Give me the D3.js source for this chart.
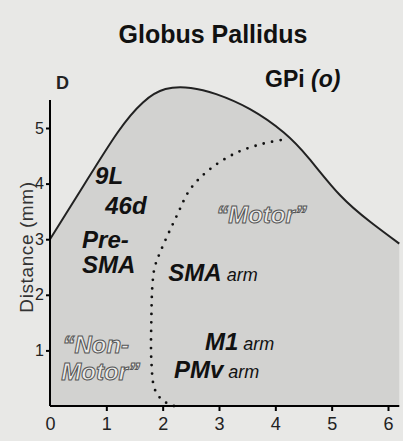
<!DOCTYPE html>
<html>
<head>
<meta charset="utf-8">
<script src="https://cdn.jsdelivr.net/npm/d3@7"></script>
<style>
  body { margin: 0; background: #e8e8e6; }
  svg { display: block; }
  text { font-family: "Liberation Sans", Arial, Helvetica, sans-serif; }
</style>
</head>
<body>
<div id="chart"></div>
<script>
// GPi outline (top edge of shaded region), distance in mm
var edgeX = [0, 0.6, 1.2, 1.65, 2.05, 2.5, 2.95, 3.55, 4.15, 4.6, 5.15, 5.7, 6.2];
var edgeY = [3.0, 3.97, 4.92, 5.46, 5.70, 5.72, 5.61, 5.34, 4.92, 4.45, 3.79, 3.30, 2.92];

// dotted border between "Non-Motor" and "Motor" territory
var borderX = [2.2, 2.0, 1.86, 1.8, 1.8, 1.82, 1.86, 1.97, 2.25, 2.49, 2.84, 3.32, 3.79, 4.2];
var borderY = [0, 0.1, 0.3, 0.8, 1.6, 2.2, 2.5, 2.8, 3.42, 3.9, 4.26, 4.56, 4.72, 4.8];

var xTicks = [0, 1, 2, 3, 4, 5, 6];
var yTicks = [1, 2, 3, 4, 5];

// area labels: [text, small suffix, x, y]
var areaLabels = [
  ["9L", "", 0.8, 4.0],
  ["46d", "", 0.98, 3.45],
  ["Pre-", "", 0.57, 2.84],
  ["SMA", "", 0.57, 2.39],
  ["SMA", " arm", 2.1, 2.25],
  ["M1", " arm", 2.75, 1.0],
  ["PMv", " arm", 2.2, 0.5]
];
var outlineLabels = [
  ["\u201CNon-", 0.22, 0.96],
  ["Motor\u201D", 0.2, 0.46],
  ["\u201CMotor\u201D", 2.95, 3.3]
];

var w = 403, h = 441;

var svg = d3.select("#chart").append("svg")
  .attr("width", w)
  .attr("height", h);

var x = d3.scaleLinear().domain([0, 6]).range([50, 388]);
var y = d3.scaleLinear().domain([0, 5]).range([406, 128]);

var edge = edgeX.map(function(d, i) { return [d, edgeY[i]]; });
var border = borderX.map(function(d, i) { return [d, borderY[i]]; });

// shaded GPi
var area = d3.area()
  .x(function(d) { return x(d[0]); })
  .y0(y(0))
  .y1(function(d) { return y(d[1]); })
  .curve(d3.curveNatural);

svg.append("path")
  .datum(edge)
  .attr("d", area)
  .attr("fill", "#d2d2d0");

svg.append("path")
  .datum(edge)
  .attr("d", d3.line()
    .x(function(d) { return x(d[0]); })
    .y(function(d) { return y(d[1]); })
    .curve(d3.curveNatural))
  .attr("fill", "none")
  .attr("stroke", "#222")
  .attr("stroke-width", 2);

// dotted border
svg.append("path")
  .datum(border)
  .attr("d", d3.line()
    .x(function(d) { return x(d[0]); })
    .y(function(d) { return y(d[1]); })
    .curve(d3.curveCatmullRom))
  .attr("fill", "none")
  .attr("stroke", "#111")
  .attr("stroke-width", 2.8)
  .attr("stroke-linecap", "round")
  .attr("stroke-dasharray", "0 8.5");

// axes
var xAxis = d3.axisBottom(x)
  .tickValues(xTicks)
  .tickSize(5)
  .tickPadding(6)
  .tickFormat(d3.format("d"));

var gx = svg.append("g")
  .attr("transform", "translate(0," + y(0) + ")")
  .call(xAxis);
gx.select(".domain").attr("d", "M" + x(0) + ",0H" + x(6.2)).attr("stroke-width", 2);
gx.selectAll(".tick line").attr("stroke-width", 2);
gx.selectAll(".tick").filter(function(d) { return d === 0; }).select("line").remove();
gx.selectAll("text")
  .attr("font-size", 18)
  .attr("fill", "#222")
  .attr("font-family", "Liberation Sans, Arial, sans-serif");

var yAxis = d3.axisLeft(y)
  .tickValues(yTicks)
  .tickSize(4)
  .tickPadding(2)
  .tickFormat(d3.format("d"));

var gy = svg.append("g")
  .attr("transform", "translate(" + x(0) + ",0)")
  .call(yAxis);
gy.select(".domain").attr("d", "M0," + y(0) + "V100").attr("stroke-width", 2);
gy.selectAll(".tick line").attr("stroke-width", 2);
gy.selectAll("text")
  .attr("font-size", 16)
  .attr("fill", "#222")
  .attr("font-family", "Liberation Sans, Arial, sans-serif");

// titles
svg.append("text")
  .attr("x", 213).attr("y", 43)
  .attr("text-anchor", "middle")
  .attr("font-size", 25).attr("font-weight", "bold")
  .attr("fill", "#111")
  .text("Globus Pallidus");

var gpi = svg.append("text")
  .attr("x", 265).attr("y", 87)
  .attr("font-size", 23).attr("font-weight", "bold")
  .attr("fill", "#111");
gpi.append("tspan").text("GPi ");
gpi.append("tspan").attr("font-style", "italic").text("(o)");

svg.append("text")
  .attr("x", 56).attr("y", 89)
  .attr("font-size", 18).attr("font-weight", "bold")
  .attr("fill", "#222")
  .text("D");

svg.append("text")
  .attr("transform", "translate(33,247) rotate(-90)")
  .attr("text-anchor", "middle")
  .attr("font-size", 19)
  .attr("letter-spacing", 0.6)
  .attr("fill", "#333")
  .text("Distance (mm)");

// region labels
areaLabels.forEach(function(d) {
  var t = svg.append("text")
    .attr("x", x(d[2])).attr("y", y(d[3]))
    .attr("font-size", 24).attr("font-weight", "bold").attr("font-style", "italic")
    .attr("fill", "#111");
  t.append("tspan").text(d[0]);
  if (d[1]) {
    t.append("tspan")
      .attr("font-size", 18).attr("font-weight", "normal")
      .text(d[1]);
  }
});

outlineLabels.forEach(function(d) {
  svg.append("text")
    .attr("x", x(d[1])).attr("y", y(d[2]))
    .attr("font-size", 24).attr("font-weight", "bold").attr("font-style", "italic")
    .attr("fill", "#ececea")
    .attr("stroke", "#555")
    .attr("stroke-width", 1)
    .text(d[0]);
});
</script>
</body>
</html>
